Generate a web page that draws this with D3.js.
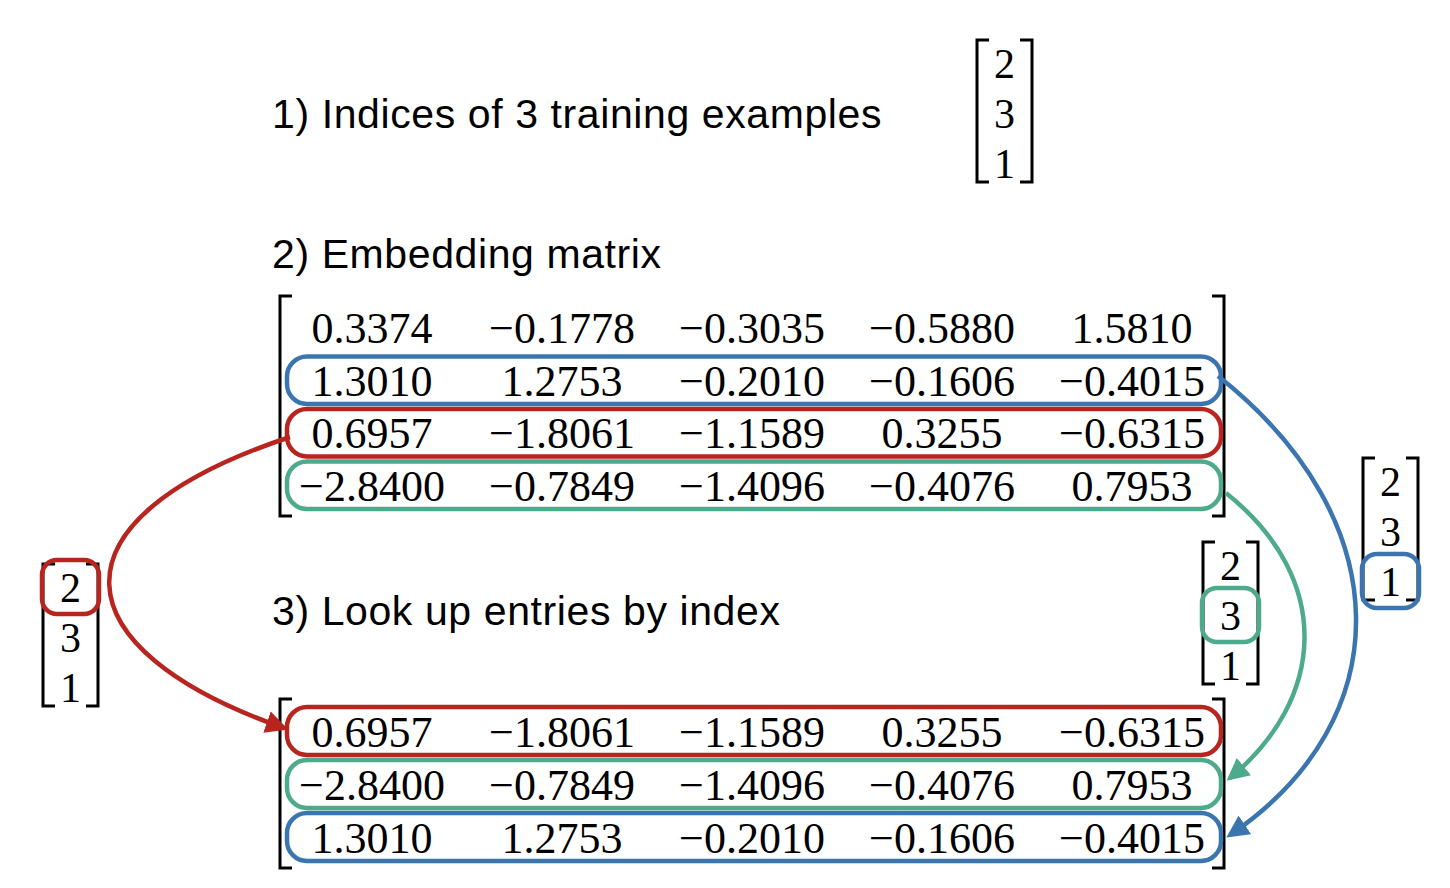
<!DOCTYPE html>
<html><head><meta charset="utf-8">
<script src="https://cdn.jsdelivr.net/npm/d3@7"></script>
<style>body{margin:0;background:#fff}</style>
</head><body>
<svg id="fig" width="1450" height="888"></svg>
<script>
// data
var embedding = [
  ["0.3374", "\u22120.1778", "\u22120.3035", "\u22120.5880", "1.5810"],
  ["1.3010", "1.2753", "\u22120.2010", "\u22120.1606", "\u22120.4015"],
  ["0.6957", "\u22121.8061", "\u22121.1589", "0.3255", "\u22120.6315"],
  ["\u22122.8400", "\u22120.7849", "\u22121.4096", "\u22120.4076", "0.7953"]
];
var indices = [2, 3, 1];
var titles = ["1) Indices of 3 training examples", "2) Embedding matrix", "3) Look up entries by index"];
var rowColors = {1: "#3b75af", 2: "#b8241e", 3: "#4eaa8c"};

var svg = d3.select("#fig");
var serif = "'Liberation Serif', 'DejaVu Serif', serif";
var sans = "'Liberation Sans', Arial, sans-serif";

var x = d3.scalePoint().domain(d3.range(5)).range([372, 1132]);

// titles
var titleY = [128, 268, 625];
svg.selectAll("text.title").data(titles).join("text")
  .attr("class", "title")
  .attr("x", 272).attr("y", function(d, i) { return titleY[i]; })
  .attr("font-family", sans).attr("font-size", 41).attr("letter-spacing", 0.6)
  .text(function(d) { return d; });

function bracket(g, x0, x1, y0, y1, w) {
  var arm = 12;
  g.append("path").attr("d", "M" + (x0 + arm) + "," + y0 + "H" + x0 + "V" + y1 + "H" + (x0 + arm))
    .attr("fill", "none").attr("stroke", "#000").attr("stroke-width", w);
  g.append("path").attr("d", "M" + (x1 - arm) + "," + y0 + "H" + x1 + "V" + y1 + "H" + (x1 - arm))
    .attr("fill", "none").attr("stroke", "#000").attr("stroke-width", w);
}

function matrix(rows, top, bottom, boxed) {
  var g = svg.append("g");
  var y = d3.scaleBand().domain(d3.range(rows.length)).range([top, bottom]);
  bracket(g, 280, 1224, top - 6, bottom + 4, 3);
  rows.forEach(function(r, i) {
    var c = boxed[i];
    if (c) {
      g.append("rect").attr("x", 287).attr("y", y(i) + 2).attr("width", 934).attr("height", y.bandwidth() - 5)
        .attr("rx", 20).attr("fill", "none").attr("stroke", c).attr("stroke-width", 4.5);
    }
    g.selectAll(null).data(r).join("text")
      .attr("x", function(d, j) { return x(j); }).attr("y", y(i) + y.bandwidth() / 2 + 15)
      .attr("text-anchor", "middle").attr("font-family", serif).attr("font-size", 44)
      .text(function(d) { return d; });
  });
  return y;
}

matrix(embedding, 302, 512, [null, rowColors[1], rowColors[2], rowColors[3]]);
var lookRows = indices.map(function(i) { return embedding[i]; });
matrix(lookRows, 705, 864, indices.map(function(i) { return rowColors[i]; }));

function vector(x0, top, hl) {
  var g = svg.append("g");
  var y = d3.scaleBand().domain(d3.range(3)).range([top, top + 150]);
  bracket(g, x0, x0 + 55, top - 2, top + 140, 3);
  indices.forEach(function(v, i) {
    if (i === hl) {
      g.append("rect").attr("x", x0 - 1).attr("y", y(i) - 6).attr("width", 57).attr("height", 54)
        .attr("rx", 15).attr("fill", "none").attr("stroke", rowColors[v]).attr("stroke-width", 4.5);
    }
    g.append("text").attr("x", x0 + 27.5).attr("y", y(i) + 36)
      .attr("text-anchor", "middle").attr("font-family", serif).attr("font-size", 42).text(v);
  });
}
vector(977, 42, -1);
vector(43, 566, 0);
vector(1203, 544, 1);
vector(1363, 460, 2);

// arrows
var defs = svg.append("defs");
Object.keys(rowColors).forEach(function(k) {
  defs.append("marker").attr("id", "ah" + k).attr("viewBox", "0 0 10 10").attr("refX", 8).attr("refY", 5)
    .attr("markerWidth", 5).attr("markerHeight", 5).attr("orient", "auto-start-reverse")
    .attr("markerUnits", "strokeWidth")
    .append("path").attr("d", "M0,0L10,5L0,10z").attr("fill", rowColors[k]);
});
var arrows = [
  {k: 2, d: "M290,437 C40,520 60,650 284,728"},
  {k: 1, d: "M1218,376 C1400,520 1400,720 1230,835"},
  {k: 3, d: "M1226,493 C1335,580 1325,700 1230,778"}
];
svg.selectAll("path.arrow").data(arrows).join("path").attr("class", "arrow")
  .attr("d", function(d) { return d.d; }).attr("fill", "none")
  .attr("stroke", function(d) { return rowColors[d.k]; }).attr("stroke-width", 4.5)
  .attr("marker-end", function(d) { return "url(#ah" + d.k + ")"; });
</script>
</body></html>
